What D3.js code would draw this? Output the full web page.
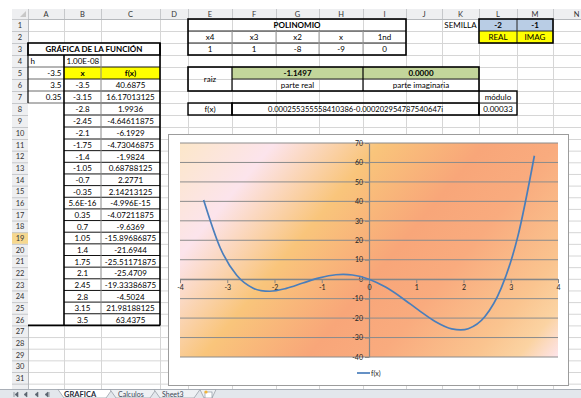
<!DOCTYPE html>
<html>
<head>
<meta charset="utf-8">
<script src="https://cdn.jsdelivr.net/npm/d3@7"></script>
<style>
  body { margin: 0; background: #fff; }
  svg text { font-family: Lato, "Open Sans", sans-serif; }
</style>
</head>
<body>
<script>
// Sheet data
const colNames = ['A', 'B', 'C', 'D', 'E', 'F', 'G', 'H', 'I', 'J', 'K', 'L', 'M', 'N'];
const xLabels = ['-3.5', '-3.15', '-2.8', '-2.45', '-2.1', '-1.75', '-1.4', '-1.05', '-0.7', '-0.35', '5.6E-16',
  '0.35', '0.7', '1.05', '1.4', '1.75', '2.1', '2.45', '2.8', '3.15', '3.5'];
const fxLabels = ['40.6875', '16.17013125', '1.9936', '-4.64611875', '-6.1929', '-4.73046875', '-1.9824',
  '0.68788125', '2.2771', '2.14213125', '-4.996E-15', '-4.07211875', '-9.6369', '-15.89686875', '-21.6944',
  '-25.51171875', '-25.4709', '-19.33386875', '-4.5024', '21.98188125', '63.4375'];
const rangeLabels = ['-3.5', '3.5', '0.35'];
const stepLabel = '1.00E-08';
const polyHeads = ['x4', 'x3', 'x2', 'x', '1nd'];
const polyCoefs = ['1', '1', '-8', '-9', '0'];
const seedValues = ['-2', '-1'];
const seedNames = ['REAL', 'IMAG'];
const rootValues = ['-1.1497', '0.0000'];
const rootNames = ['parte real', 'parte imaginaria'];
const fxAtRoot = '0.000255355558410386-0.000202954787540647i';
const modulus = '0.00033';
const yTicks = [70, 60, 50, 40, 30, 20, 10, 0, -10, -20, -30, -40];
const xTicks = [-4, -3, -2, -1, 0, 1, 2, 3, 4];
const sheetTabs = ['GRAFICA', 'Calculos', 'Sheet3'];

// Layout
const WIDTH = 581;
const HEIGHT = 398;
const COL = [28, 64, 101, 160, 188, 232, 276, 319, 363, 406, 442, 479, 517, 553, 600];
const TAB_TOP = 389;
function rowTop(r) { return r <= 11 ? 19 + (r - 1) * 12 : 139 + (r - 11) * 11.65; }
function colL(c) { return COL[colNames.indexOf(c)]; }
function colR(c) { return COL[colNames.indexOf(c) + 1]; }

const svg = d3.select('body')
  .append('svg')
  .attr('width', WIDTH)
  .attr('height', HEIGHT);

svg.append('rect').attr('width', WIDTH).attr('height', HEIGHT).attr('fill', '#fff');

const sheet = svg.append('g');

// gridlines
const rows = d3.range(1, 34);
sheet.selectAll('.hgrid')
  .data(rows)
  .enter().append('line')
  .attr('x1', 28).attr('x2', WIDTH)
  .attr('y1', d => rowTop(d) + 0.5).attr('y2', d => rowTop(d) + 0.5)
  .attr('stroke', '#d6d6d6');
sheet.selectAll('.vgrid')
  .data(COL)
  .enter().append('line')
  .attr('x1', d => d + 0.5).attr('x2', d => d + 0.5)
  .attr('y1', 19).attr('y2', TAB_TOP)
  .attr('stroke', '#d6d6d6');

// headers
sheet.append('rect').attr('x', 12).attr('y', 9).attr('width', WIDTH - 12).attr('height', 10).attr('fill', '#eeeff1');
sheet.append('rect').attr('x', 12).attr('y', 19).attr('width', 16).attr('height', TAB_TOP - 19).attr('fill', '#eeeff1');
sheet.append('rect').attr('x', 12).attr('y', rowTop(19)).attr('width', 16).attr('height', 11.65).attr('fill', '#f6d88f');
sheet.append('line').attr('x1', 12).attr('x2', WIDTH).attr('y1', 19.5).attr('y2', 19.5).attr('stroke', '#b5b8bc');
sheet.append('line').attr('x1', 28.5).attr('x2', 28.5).attr('y1', 9).attr('y2', TAB_TOP).attr('stroke', '#b5b8bc');
sheet.append('path').attr('d', 'M26,11L26,17L20,17Z').attr('fill', '#c8c8c8');

sheet.selectAll('.colsep')
  .data(COL)
  .enter().append('line')
  .attr('x1', d => d + 0.5).attr('x2', d => d + 0.5)
  .attr('y1', 9).attr('y2', 19)
  .attr('stroke', '#c6c8cb');
sheet.selectAll('.rowsep')
  .data(rows)
  .enter().append('line')
  .attr('x1', 12).attr('x2', 28)
  .attr('y1', d => rowTop(d) + 0.5).attr('y2', d => rowTop(d) + 0.5)
  .attr('stroke', '#c6c8cb');

sheet.selectAll('.colname')
  .data(colNames)
  .enter().append('text')
  .attr('x', (d, i) => (COL[i] + Math.min(COL[i + 1], WIDTH + 30)) / 2)
  .attr('y', 17)
  .attr('text-anchor', 'middle')
  .attr('font-size', 7.5)
  .attr('fill', '#333')
  .text(d => d);
sheet.selectAll('.rownum')
  .data(rows.slice(0, 31))
  .enter().append('text')
  .attr('x', 20)
  .attr('y', d => rowTop(d) + 8.8)
  .attr('text-anchor', 'middle')
  .attr('font-size', 7.5)
  .attr('fill', '#333')
  .text(d => d);

// cell helpers
function fillCells(c1, c2, r1, r2, color) {
  sheet.append('rect')
    .attr('x', colL(c1)).attr('y', rowTop(r1))
    .attr('width', colR(c2) - colL(c1)).attr('height', rowTop(r2 + 1) - rowTop(r1))
    .attr('fill', color);
}
function cell(c1, c2, r1, r2, text, opts) {
  opts = opts || {};
  const left = colL(c1), right = colR(c2);
  const mid = (rowTop(r1) + rowTop(r2 + 1)) / 2;
  let x = (left + right) / 2, anchor = 'middle';
  if (opts.align === 'left') { x = left + 2.5; anchor = 'start'; }
  if (opts.align === 'right') { x = right - 2.5; anchor = 'end'; }
  const t = sheet.append('text')
    .attr('x', x).attr('y', mid + 3.3)
    .attr('text-anchor', anchor)
    .attr('font-size', 8)
    .attr('font-weight', opts.bold ? 'bold' : 'normal')
    .attr('fill', '#000')
    .text(text);
  if (opts.fit) t.attr('textLength', opts.fit).attr('lengthAdjust', 'spacingAndGlyphs');
}
function hline(x1, x2, yy, w, color) {
  sheet.append('line').attr('x1', x1).attr('x2', x2).attr('y1', yy).attr('y2', yy)
    .attr('stroke', color || '#000').attr('stroke-width', w || 1);
}
function vline(xx, y1, y2, w, color) {
  sheet.append('line').attr('x1', xx).attr('x2', xx).attr('y1', y1).attr('y2', y2)
    .attr('stroke', color || '#000').attr('stroke-width', w || 1);
}
function box(c1, c2, r1, r2, w) {
  sheet.append('rect')
    .attr('x', colL(c1)).attr('y', rowTop(r1))
    .attr('width', colR(c2) - colL(c1)).attr('height', rowTop(r2 + 1) - rowTop(r1))
    .attr('fill', 'none').attr('stroke', '#000').attr('stroke-width', w || 1);
}

// function table A3:C26
fillCells('A', 'C', 3, 26, '#fff');
fillCells('B', 'C', 5, 5, '#ffff00');
cell('A', 'C', 3, 3, 'GRÁFICA DE LA FUNCIÓN', { bold: true });
cell('A', 'A', 4, 4, 'h', { align: 'left' });
cell('B', 'B', 4, 4, stepLabel, { align: 'left' });
rangeLabels.forEach((d, i) => cell('A', 'A', 5 + i, 5 + i, d, { align: 'right' }));
cell('B', 'B', 5, 5, 'x', { bold: true });
cell('C', 'C', 5, 5, 'f(x)', { bold: true });
xLabels.forEach((d, i) => cell('B', 'B', 6 + i, 6 + i, d));
fxLabels.forEach((d, i) => cell('C', 'C', 6 + i, 6 + i, d));

d3.range(4, 8).forEach(r => hline(colL('A'), colL('B'), rowTop(r + 1), 0.8, '#444'));
d3.range(4, 26).forEach(r => hline(colL('B'), colR('C'), rowTop(r + 1), 1, '#111'));
vline(colL('C'), rowTop(4), rowTop(27), 1, '#888');
vline(colL('B'), rowTop(4), rowTop(27), 1.6);
box('A', 'C', 3, 3, 1.6);
hline(colL('A'), colR('C'), rowTop(27), 1.6);
vline(colL('A'), rowTop(3), rowTop(8), 1.2);
vline(colR('C'), rowTop(3), rowTop(27), 1.6);

// polynomial E1:I3
cell('E', 'I', 1, 1, 'POLINOMIO', { bold: true });
polyHeads.forEach((d, i) => cell(colNames[4 + i], colNames[4 + i], 2, 2, d));
polyCoefs.forEach((d, i) => cell(colNames[4 + i], colNames[4 + i], 3, 3, d));
hline(colL('E'), colR('I'), rowTop(2), 1, '#222');
hline(colL('E'), colR('I'), rowTop(3), 1, '#222');
['F', 'G', 'H', 'I'].forEach(c => vline(colL(c), rowTop(2), rowTop(4), 1, '#999'));
box('E', 'I', 1, 3, 1.6);

// seed L1:M2
cell('K', 'K', 1, 1, 'SEMILLA');
fillCells('L', 'M', 1, 1, '#b9cde5');
fillCells('L', 'M', 2, 2, '#ffff00');
seedValues.forEach((d, i) => cell(colNames[11 + i], colNames[11 + i], 1, 1, d, { bold: true }));
seedNames.forEach((d, i) => cell(colNames[11 + i], colNames[11 + i], 2, 2, d));
hline(colL('L'), colR('M'), rowTop(2), 1, '#222');
vline(colL('M'), rowTop(1), rowTop(3), 1, '#222');
box('L', 'M', 1, 2, 1.6);

// root E5:K6
fillCells('F', 'K', 5, 5, '#c3d69b');
cell('E', 'E', 5, 6, 'raiz');
cell('F', 'H', 5, 5, rootValues[0], { bold: true });
cell('I', 'K', 5, 5, rootValues[1], { bold: true });
cell('F', 'H', 6, 6, rootNames[0]);
cell('I', 'K', 6, 6, rootNames[1]);
hline(colL('F'), colR('K'), rowTop(6), 1, '#222');
vline(colL('F'), rowTop(5), rowTop(7), 1.2);
vline(colL('I'), rowTop(5), rowTop(7), 1.2);
box('E', 'K', 5, 6, 1.6);

// f(x) and modulus
cell('L', 'L', 7, 7, 'módulo');
cell('E', 'E', 8, 8, 'f(x)');
cell('F', 'K', 8, 8, fxAtRoot, { fit: 175 });
cell('L', 'L', 8, 8, modulus);
box('E', 'E', 8, 8, 1.4);
box('F', 'K', 8, 8, 1.6);
box('L', 'L', 7, 8, 1.4);
hline(colL('L'), colR('L'), rowTop(8), 1, '#222');

// Chart
const chart = svg.append('g');
chart.append('rect')
  .attr('x', 168.5).attr('y', 134.5).attr('width', 400).attr('height', 251)
  .attr('fill', '#fff').attr('stroke', '#9c9c9c');

const xScale = d3.scaleLinear().domain([-4, 4]).range([180, 558]);
const yScale = d3.scaleLinear().domain([-40, 70]).range([357, 143]);

const defs = svg.append('defs');
const grad = defs.append('linearGradient')
  .attr('id', 'sunset')
  .attr('gradientUnits', 'userSpaceOnUse')
  .attr('x1', 180).attr('y1', 143).attr('x2', 508).attr('y2', 416);
[[0, '#fce7c9'], [0.17, '#fce4ec'], [0.36, '#f9c57b'], [0.55, '#f8a679'], [0.68, '#f9ab7e'],
  [0.85, '#fac48f'], [0.93, '#fbd3a2'], [1, '#fde4e9']].forEach(s => {
  grad.append('stop').attr('offset', s[0]).attr('stop-color', s[1]);
});

chart.append('rect')
  .attr('x', xScale(-4)).attr('y', yScale(70))
  .attr('width', xScale(4) - xScale(-4)).attr('height', yScale(-40) - yScale(70))
  .attr('fill', 'url(#sunset)');

chart.selectAll('.grid')
  .data(yTicks)
  .enter().append('line')
  .attr('class', 'grid')
  .attr('x1', xScale(-4)).attr('x2', xScale(4))
  .attr('y1', d => yScale(d)).attr('y2', d => yScale(d))
  .attr('stroke', '#8c8c8c')
  .attr('stroke-width', 1);

const yAxis = d3.axisLeft(yScale).tickValues(yTicks).tickSize(4).tickSizeOuter(0).tickPadding(2)
  .tickFormat(d => String(d));
const gy = chart.append('g')
  .attr('transform', 'translate(' + xScale(0) + ',0)')
  .call(yAxis);

const xAxis = d3.axisBottom(xScale).tickValues(xTicks).tickSize(4).tickSizeOuter(0).tickPadding(2)
  .tickFormat(d => String(d));
const gx = chart.append('g')
  .attr('transform', 'translate(0,' + yScale(0) + ')')
  .call(xAxis);

[gx, gy].forEach(g => {
  g.select('.domain').attr('stroke', '#868686').attr('stroke-width', 1.2);
  g.selectAll('.tick line').attr('stroke', '#868686');
  g.selectAll('.tick text').attr('font-size', 7).attr('fill', '#222').attr('font-family', 'Lato, sans-serif');
});

const points = xLabels.map((d, i) => ({ x: +d, y: +fxLabels[i] }));
const line = d3.line()
  .x(d => xScale(d.x))
  .y(d => yScale(d.y))
  .curve(d3.curveCardinal.tension(0));

chart.append('path')
  .datum(points)
  .attr('d', line)
  .attr('fill', 'none')
  .attr('stroke', '#4a7ebb')
  .attr('stroke-width', 1.7);

// legend
const legend = chart.append('g').attr('transform', 'translate(357,373)');
legend.append('line').attr('x1', 0).attr('x2', 13).attr('stroke', '#4a7ebb').attr('stroke-width', 1.7);
legend.append('text').attr('x', 14).attr('y', 2.5).attr('font-size', 7).attr('fill', '#222').text('f(x)');

// sheet tabs
const tabs = svg.append('g');
tabs.append('rect').attr('x', 0).attr('y', TAB_TOP).attr('width', WIDTH).attr('height', HEIGHT - TAB_TOP).attr('fill', '#e3e7ec');
tabs.append('line').attr('x1', 0).attr('x2', WIDTH).attr('y1', TAB_TOP + 0.5).attr('y2', TAB_TOP + 0.5).attr('stroke', '#a9afb7');
tabs.append('rect').attr('x', 0).attr('y', 0).attr('width', 12).attr('height', TAB_TOP).attr('fill', '#fff');

const navIcons = ['M14,392v5M15,394.5l3,-2.5v5z', 'M24,394.5l3,-2.5v5z', 'M38,392v5l-3,-2.5z', 'M48,392v5l-3,-2.5zM49,392v5'];
navIcons.forEach(d => tabs.append('path').attr('d', d).attr('fill', '#5b6470').attr('stroke', '#5b6470').attr('stroke-width', 0.6));

const tabX = [58, 110, 154];
const tabW = [54, 46, 46];
sheetTabs.forEach((name, i) => {
  const x0 = tabX[i], w = tabW[i];
  tabs.append('path')
    .attr('d', 'M' + x0 + ',' + (TAB_TOP + 0.5) + 'L' + (x0 + w) + ',' + (TAB_TOP + 0.5) + 'L' + (x0 + w - 6) + ',' + HEIGHT + 'L' + (x0 + 6) + ',' + HEIGHT + 'Z')
    .attr('fill', i === 0 ? '#fff' : '#eef1f4')
    .attr('stroke', '#9aa1aa')
    .attr('stroke-width', 0.8);
  tabs.append('text')
    .attr('x', x0 + (i === 0 ? 6 : 8))
    .attr('y', 396.5)
    .attr('font-size', i === 0 ? 7.5 : 7)
    .attr('font-weight', i === 0 ? 'bold' : 'normal')
    .attr('fill', i === 0 ? '#1f2a3a' : '#3b4656')
    .text(name);
});
tabs.append('path').attr('d', 'M200,389.5L216,389.5L212,398L204,398Z').attr('fill', '#eef1f4').attr('stroke', '#9aa1aa').attr('stroke-width', 0.8);
tabs.append('rect').attr('x', 205).attr('y', 392).attr('width', 7).attr('height', 6).attr('fill', '#fff').attr('stroke', '#7a8694').attr('stroke-width', 0.6);
tabs.append('circle').attr('cx', 206).attr('cy', 392).attr('r', 1.6).attr('fill', '#f2b53a');
</script>
</body>
</html>
